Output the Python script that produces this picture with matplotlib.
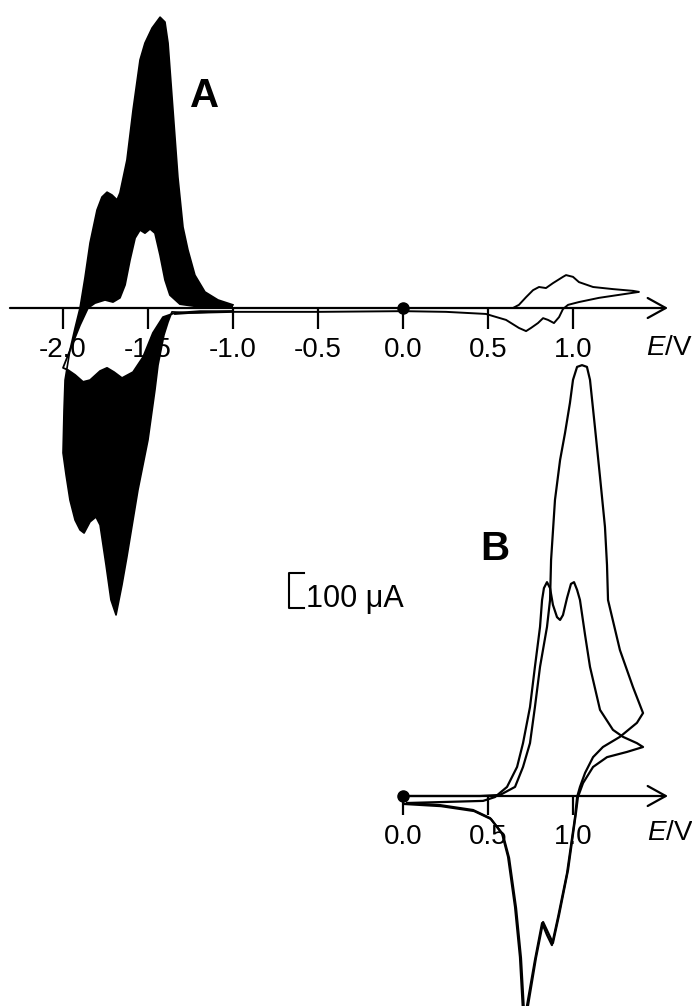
import matplotlib
matplotlib.use("Agg")
import matplotlib.pyplot as plt

plt.rcParams['font.family'] = ['Liberation Sans', 'DejaVu Sans']
plt.rcParams['axes.unicode_minus'] = False
plt.rcParams['mathtext.fontset'] = 'custom'
plt.rcParams['mathtext.it'] = 'Liberation Sans:italic'
plt.rcParams['mathtext.rm'] = 'Liberation Sans'

# ---------------- panel A (E in V, I in uA) ----------------
# outermost cycle, cathodic sweep -1.0 -> -2.0 V
a_out_cath_E = [-1.0, -1.253, -1.359, -1.382, -1.406, -1.441, -1.459, -1.5, -1.559, -1.624,
                -1.653, -1.688, -1.718, -1.747, -1.782, -1.806, -1.841, -1.876, -1.9, -1.929,
                -1.959, -1.982, -2.0]
a_out_cath_I = [-9, -14, -11, -40, -77, -163, -234, -377, -520, -711,
                -791, -877, -834, -734, -620, -597, -611, -643, -634, -606,
                -549, -477, -414]
# outermost cycle, return sweep -2.0 -> -1.0 V
a_out_anod_E = [-2.0, -1.994, -1.988, -1.959, -1.929, -1.9, -1.871, -1.841, -1.8, -1.771,
                -1.741, -1.712, -1.682, -1.665, -1.624, -1.588, -1.547, -1.518, -1.476, -1.429,
                -1.4, -1.382, -1.353, -1.324, -1.294, -1.265, -1.224, -1.165, -1.088, -1.0]
a_out_anod_I = [-414, -291, -206, -120, -57, 0, 86, 186, 280, 317,
                331, 323, 309, 329, 423, 566, 709, 757, 800, 831,
                817, 757, 566, 374, 231, 166, 94, 46, 23, 9]
# first cycle (innermost)
a_in_cath_E = [-1.0, -1.194, -1.341, -1.412, -1.471, -1.529, -1.588, -1.653, -1.7, -1.741,
               -1.782, -1.841, -1.882, -1.929, -1.971, -2.0]
a_in_cath_I = [-9, -9, -14, -26, -71, -140, -183, -200, -183, -171,
               -180, -206, -211, -191, -177, -171]
a_in_anod_E = [-2.0, -1.947, -1.9, -1.853, -1.812, -1.753, -1.706, -1.665, -1.635, -1.606,
               -1.576, -1.547, -1.518, -1.488, -1.459, -1.429, -1.4, -1.371, -1.312, -1.194, -1.0]
a_in_anod_I = [-171, -106, -49, 0, 14, 23, 17, 29, 66, 137,
               200, 223, 214, 226, 214, 151, 80, 37, 11, 3, 0]
# initial scan from 0 V to +1.39 V and back towards -1.34 V
a_first_E = [0.0, 0.571, 0.647, 0.682, 0.724, 0.765, 0.8, 0.841, 0.882, 0.941,
             0.959, 1.0, 1.035, 1.118, 1.235, 1.353, 1.388, 1.153, 1.035, 0.971,
             0.941, 0.918, 0.888, 0.853, 0.824, 0.794, 0.753, 0.724, 0.682, 0.606,
             0.529, 0.488, 0.253, 0.0, -0.494, -0.994, -1.253, -1.341]
a_first_I = [0, 0, 0, 9, 31, 51, 60, 57, 71, 89,
             94, 89, 74, 60, 54, 49, 46, 29, 17, 9,
             -3, -26, -43, -34, -29, -43, -57, -66, -57, -34,
             -23, -17, -11, -9, -11, -11, -14, -17]
a_ticks = [-2.0, -1.5, -1.0, -0.5, 0.0, 0.5, 1.0]

# ---------------- panel B ----------------
b_cyc1_E = [0.0, 0.453, 0.571, 0.659, 0.706, 0.747, 0.776, 0.806, 0.847, 0.865,
            0.871, 0.894, 0.924, 0.953, 0.982, 1.0, 1.024, 1.053, 1.082, 1.1,
            1.129, 1.159, 1.188, 1.2, 1.206, 1.276, 1.353, 1.412, 1.376, 1.276,
            1.176, 1.118, 1.071, 1.041, 1.024, 1.012, 0.965, 0.912, 0.876, 0.847,
            0.818, 0.776, 0.729, 0.712, 0.688, 0.659, 0.618, 0.582, 0.512, 0.412,
            0.218, 0.024]
b_cyc1_I = [0, 0, 3, 26, 83, 151, 254, 369, 483, 560,
            674, 846, 960, 1037, 1123, 1189, 1226, 1231, 1226, 1189,
            1054, 911, 769, 660, 560, 417, 311, 237, 209, 169,
            140, 111, 66, 26, -3, -60, -220, -346, -426, -397,
            -363, -469, -600, -669, -460, -317, -174, -106, -63, -40,
            -26, -20]
b_cyc2_E = [0.024, 0.471, 0.541, 0.612, 0.671, 0.706, 0.747, 0.776, 0.806, 0.818,
            0.829, 0.847, 0.865, 0.882, 0.906, 0.924, 0.941, 0.965, 0.988, 1.006,
            1.024, 1.041, 1.071, 1.1, 1.159, 1.235, 1.294, 1.376, 1.412, 1.318,
            1.2, 1.118, 1.059, 1.029, 1.018, 0.971, 0.918, 0.882, 0.824, 0.782,
            0.735, 0.718, 0.694, 0.665, 0.624, 0.588, 0.518, 0.418, 0.224, 0.012]
b_cyc2_I = [-20, -14, -3, 26, 83, 151, 254, 369, 483, 560,
            594, 611, 594, 546, 511, 503, 517, 566, 606, 611,
            589, 560, 460, 369, 246, 189, 169, 151, 140, 126,
            111, 83, 37, -3, -46, -211, -340, -420, -360, -463,
            -600, -669, -463, -320, -177, -111, -66, -43, -29, -23]
b_ticks = [0.0, 0.5, 1.0]

fig = plt.figure(figsize=(6.92, 10.06), dpi=100)
axA = fig.add_axes([0, 0, 1, 1])
axB = fig.add_axes([0, 0, 1, 1])

# same scale for both panels: 170 px per V, 35 px per 100 uA
xlim = (-403 / 170, 289 / 170)
axA.set_xlim(xlim)
axA.set_ylim(-698 / 0.35, 308 / 0.35)
axB.set_xlim(xlim)
axB.set_ylim(-210 / 0.35, 796 / 0.35)


def style_axis(ax, ticks, start, tick_len):
    ax.patch.set_visible(False)
    for s in ax.spines.values():
        s.set_visible(False)
    ax.spines['bottom'].set_position(('data', 0))
    ax.set_yticks([])
    ax.set_xticks(ticks)
    ax.set_xticklabels(['%.1f' % t for t in ticks])
    ax.tick_params(axis='x', direction='out', length=tick_len, width=1.6,
                   pad=6, labelsize=20, colors='k')
    ax.xaxis.set_zorder(1.5)
    ax.annotate('', xy=(1.559, 0), xytext=(start, 0),
                arrowprops=dict(arrowstyle='->,head_length=0.65,head_width=0.36',
                                lw=1.6, color='k', shrinkA=0, shrinkB=0,
                                mutation_scale=20), zorder=3)
    ax.plot([0], [0], 'o', color='k', ms=8, zorder=4)


style_axis(axA, a_ticks, -2.312, 15)
style_axis(axB, b_ticks, 0.0, 14)

# panel A: envelope of the repeated cycles
outer_E = a_out_cath_E + a_out_anod_E
outer_I = a_out_cath_I + a_out_anod_I
inner_E = a_in_cath_E + a_in_anod_E
inner_I = a_in_cath_I + a_in_anod_I
axA.fill(outer_E, outer_I, color='k', lw=0, zorder=1)
axA.fill(inner_E, inner_I, color='w', lw=0, zorder=1.1)
axA.plot(outer_E, outer_I, color='k', lw=1.2, zorder=2)
axA.plot(inner_E, inner_I, color='k', lw=1.3, zorder=2)
axA.plot(a_first_E, a_first_I, color='k', lw=1.4, zorder=2)

# panel B
axB.plot(b_cyc1_E, b_cyc1_I, color='k', lw=1.6, zorder=2)
axB.plot(b_cyc2_E, b_cyc2_I, color='k', lw=1.6, zorder=2)

# labels
axA.text(-1.253, 574, 'A', fontsize=29, fontweight='bold', ha='left', va='baseline')
axB.text(0.453, 674, 'B', fontsize=29, fontweight='bold', ha='left', va='baseline')
axA.text(1.429, -113, r'$\mathit{E}$/V', fontsize=20, ha='left', va='center')
axB.text(1.435, -106, r'$\mathit{E}$/V', fontsize=20, ha='left', va='center')

# 100 uA scale bar
axA.plot([-0.582, -0.671, -0.671, -0.582], [-757, -757, -857, -857], color='k', lw=1.5)
axA.text(-0.571, -854, '100 \u03bcA', fontsize=22, ha='left', va='baseline')

fig.savefig('out.png', dpi=100)
